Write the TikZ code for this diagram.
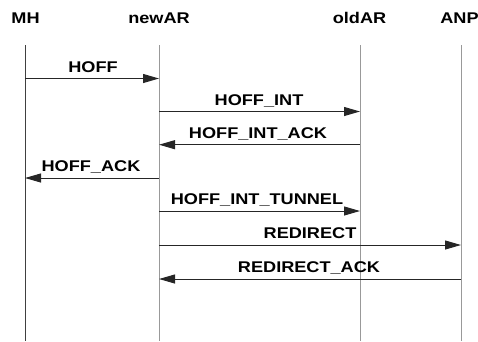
\documentclass[tikz,border=0pt]{standalone}
\usepackage{fontspec}
\setmainfont{Liberation Sans}[FakeStretch=1.17]
\usetikzlibrary{arrows.meta}
\begin{document}
\begin{tikzpicture}[x=1pt,y=-1pt,
  lbl/.style={font=\fontsize{15.5}{16}\selectfont\bfseries, inner sep=0pt, anchor=base},
  head/.style={font=\fontsize{15.5}{16}\selectfont\bfseries, inner sep=0pt, anchor=base},
  life/.style={draw=black!40, line width=0.9pt},
  lifedark/.style={draw=black!75, line width=0.9pt},
  msg/.style={draw=black!85, line width=1pt, -{Triangle[length=16pt,width=9pt]}}]
\useasboundingbox (0,0) rectangle (478,341);
% heads
\node[head] (hMH) at (25.5,23) {MH};
\node[head] (hnew) at (159,23) {newAR};
\node[head] (hold) at (359.5,23) {oldAR};
\node[head] (hANP) at (459.5,23) {ANP};
% lifeline ends
\coordinate (tMH) at (25,45);   \coordinate (bMH) at (25,341);
\coordinate (tnew) at (159,45); \coordinate (bnew) at (159,341);
\coordinate (told) at (360,45); \coordinate (bold) at (360,341);
\coordinate (tANP) at (461,45); \coordinate (bANP) at (461,341);
\draw[lifedark] (tMH) -- (bMH);
\draw[life] (tnew) -- (bnew);
\draw[life] (told) -- (bold);
\draw[life] (tANP) -- (bANP);
% message points
\coordinate (m1a) at (25,78.5);  \coordinate (m1b) at (159,78.5);
\coordinate (m2a) at (159,111.5); \coordinate (m2b) at (360,111.5);
\coordinate (m3a) at (360,144.7); \coordinate (m3b) at (159,144.7);
\coordinate (m4a) at (159,178);  \coordinate (m4b) at (25,178);
\coordinate (m5a) at (159,211);  \coordinate (m5b) at (360,211);
\coordinate (m6a) at (159,245);  \coordinate (m6b) at (461,245);
\coordinate (m7a) at (461,279);  \coordinate (m7b) at (159,279);
\draw[msg] (m1a) -- (m1b);
\draw[msg] (m2a) -- (m2b);
\draw[msg] (m3a) -- (m3b);
\draw[msg] (m4a) -- (m4b);
\draw[msg] (m5a) -- (m5b);
\draw[msg] (m6a) -- (m6b);
\draw[msg] (m7a) -- (m7b);
% labels
\node[lbl] (l1) at (93,72) {HOFF};
\node[lbl] (l2) at (259,105) {HOFF\_INT};
\node[lbl] (l3) at (258,138.5) {HOFF\_INT\_ACK};
\node[lbl] (l4) at (91,171.5) {HOFF\_ACK};
\node[lbl] (l5) at (257,204.5) {HOFF\_INT\_TUNNEL};
\node[lbl] (l6) at (310,238.5) {REDIRECT};
\node[lbl] (l7) at (309,272.5) {REDIRECT\_ACK};
\end{tikzpicture}
\end{document}
